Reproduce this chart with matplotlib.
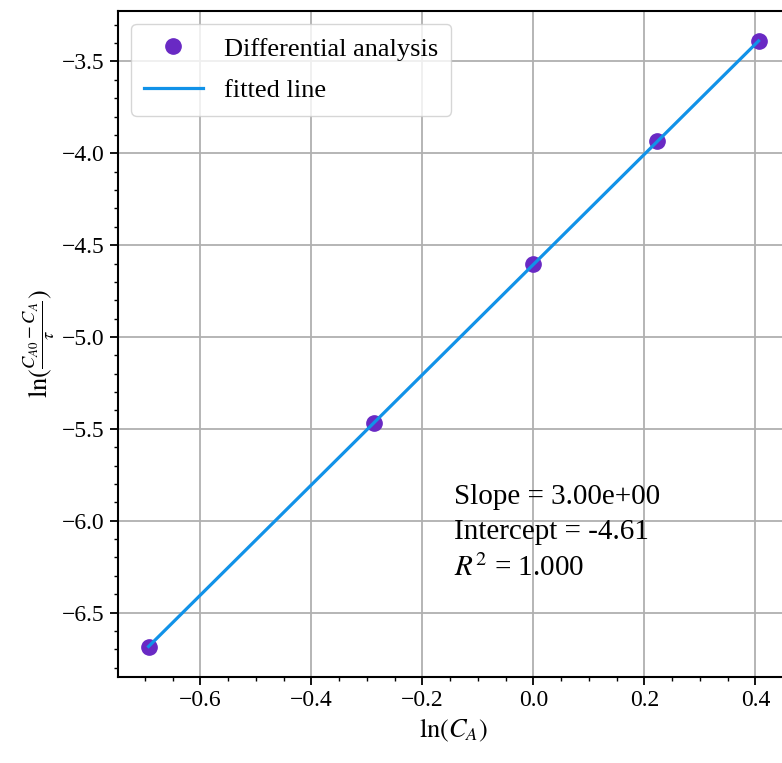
import numpy as np
import matplotlib
matplotlib.use("Agg")
import matplotlib.pyplot as plt
from matplotlib.ticker import AutoMinorLocator

# ln(C_A) and ln((C_A0 - C_A)/tau) for the five runs
ln_ca = [-0.6931, -0.2877, 0.0000, 0.2231, 0.4055]
ln_rate = [-6.6846, -5.4683, -4.6052, -3.9357, -3.3888]

plt.rcParams['font.family'] = ['Liberation Serif', 'DejaVu Serif']
plt.rcParams['mathtext.fontset'] = 'stix'

slope, intercept = np.polyfit(ln_ca, ln_rate, 1)
fit = np.polyval([slope, intercept], ln_ca)
r2 = np.corrcoef(ln_ca, ln_rate)[0, 1] ** 2

fig = plt.figure(figsize=(7.82, 7.63), dpi=100)
ax = fig.add_axes([0.151, 0.113, 0.858, 0.873])

ax.plot(ln_ca, ln_rate, 'o', color='#6929c4', markersize=11,
        label='Differential analysis', zorder=3)
ax.plot(ln_ca, fit, '-', color='#1192e8', linewidth=2.3,
        label='fitted line', zorder=4)

ax.grid(True, color='#b0b0b0', linewidth=1.3)
ax.set_axisbelow(True)
ax.xaxis.set_minor_locator(AutoMinorLocator())
ax.yaxis.set_minor_locator(AutoMinorLocator())
ax.tick_params(which='major', length=6, width=1.3, labelsize=17)
ax.tick_params(which='minor', length=3, width=1.0)
for s in ax.spines.values():
    s.set_linewidth(1.5)

ax.set_xlabel(r'$\ln(C_A)$', fontsize=19)
ax.set_ylabel(r'$\ln(\frac{C_{A0}-C_A}{\tau})$', fontsize=19)

ax.legend(loc='upper left', fontsize=19, framealpha=0.8,
          borderpad=0.5, handlelength=2.2, handletextpad=0.8,
          labelspacing=0.7)

ax.text(0.5, 0.29,
        f'Slope = {slope:.2e}\nIntercept = {intercept:.2f}\n$R^2$ = {r2:.3f}',
        transform=ax.transAxes, fontsize=21, va='top', ha='left',
        linespacing=1.45)

fig.savefig('out.png', dpi=100)
